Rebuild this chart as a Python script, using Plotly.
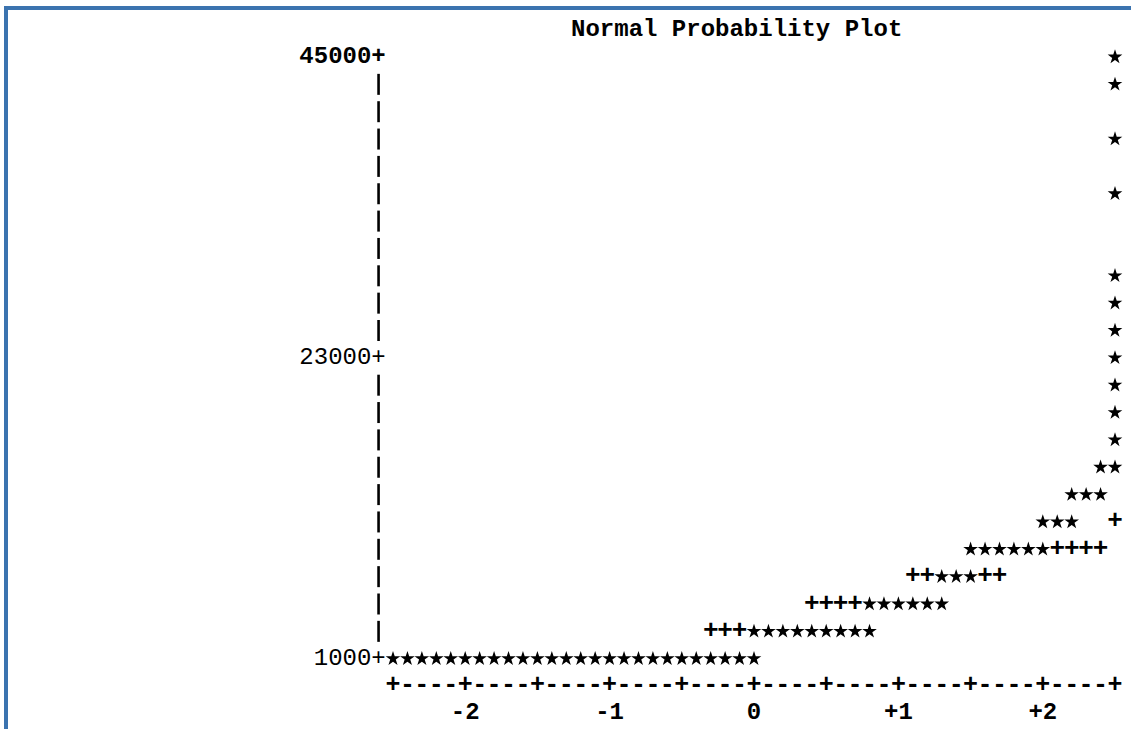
import plotly.graph_objects as go

# Normal quantile (x) and observed value (y) for each plotted observation
star_x = [2.5, 2.5, 2.5, 2.5, 2.5, 2.5, 2.5, 2.5, 2.5, 2.5, 2.5,
          2.4, 2.5,
          2.2, 2.3, 2.4,
          2.0, 2.1, 2.2,
          1.5, 1.6, 1.7, 1.8, 1.9, 2.0,
          1.3, 1.4, 1.5,
          0.8, 0.9, 1.0, 1.1, 1.2, 1.3,
          0.0, 0.1, 0.2, 0.3, 0.4, 0.5, 0.6, 0.7, 0.8,
          -2.5, -2.4, -2.3, -2.2, -2.1, -2.0, -1.9, -1.8, -1.7, -1.6, -1.5, -1.4, -1.3,
          -1.2, -1.1, -1.0, -0.9, -0.8, -0.7, -0.6, -0.5, -0.4, -0.3, -0.2, -0.1, 0.0]
star_y = [45000, 43000, 39000, 35000, 29000, 27000, 25000, 23000, 21000, 19000, 17000,
          15000, 15000,
          13000, 13000, 13000,
          11000, 11000, 11000,
          9000, 9000, 9000, 9000, 9000, 9000,
          7000, 7000, 7000,
          5000, 5000, 5000, 5000, 5000, 5000,
          3000, 3000, 3000, 3000, 3000, 3000, 3000, 3000, 3000,
          1000, 1000, 1000, 1000, 1000, 1000, 1000, 1000, 1000, 1000, 1000, 1000, 1000,
          1000, 1000, 1000, 1000, 1000, 1000, 1000, 1000, 1000, 1000, 1000, 1000, 1000]

# Reference normal line (shown where it is not covered by data)
ref_x = [2.5,
         2.1, 2.2, 2.3, 2.4,
         1.1, 1.2, 1.6, 1.7,
         0.4, 0.5, 0.6, 0.7,
         -0.3, -0.2, -0.1]
ref_y = [11000,
         9000, 9000, 9000, 9000,
         7000, 7000, 7000, 7000,
         5000, 5000, 5000, 5000,
         3000, 3000, 3000]

# Axis labelling
y_ticks = [45000, 23000, 1000]
y_tick_bold = [True, False, False]
x_ticks = [-2.5, -2.0, -1.5, -1.0, -0.5, 0.0, 0.5, 1.0, 1.5, 2.0, 2.5]
x_tick_labels = ["", "-2", "", "-1", "", "0", "", "+1", "", "+2", ""]
title_text = "Normal Probability Plot"

# Character grid of the line-printer style plot
COL = 0.1        # x units per character column
ROW = 2000       # y units per text row
W, H = 1131, 729
FONT = "Liberation Mono, Courier New, monospace"
SIZE = 24

y_top, y_bot = y_ticks[0], y_ticks[-1]
axis_col_x = x_ticks[0] - COL          # column holding the vertical axis
axis_row_y = y_bot - ROW               # row holding the horizontal axis
label_row_y = y_bot - 2 * ROW          # row holding the x tick labels

fig = go.Figure()

# vertical axis drawn as short '|' strokes between labelled rows
bar_y = [v for v in range(y_bot, y_top + 1, ROW) if v not in y_ticks]
fig.add_trace(go.Scatter(
    x=[axis_col_x] * len(bar_y), y=bar_y, mode="markers",
    marker=dict(symbol="line-ns-open", size=15, color="black",
                line=dict(width=2.6, color="black")),
    hoverinfo="skip", showlegend=False))

# y tick labels "value+" right-aligned on the axis column
for v, b in zip(y_ticks, y_tick_bold):
    fig.add_trace(go.Scatter(
        x=[axis_col_x + COL / 2], y=[v], mode="text", text=[f"{v}+"],
        textposition="middle left",
        textfont=dict(family=FONT, size=SIZE, color="black",
                      weight="bold" if b else "normal"),
        hoverinfo="skip", showlegend=False))

# horizontal axis "+----+----+ ..."
n_cols = int(round((x_ticks[-1] - x_ticks[0]) / COL)) + 1
axis_x = [x_ticks[0] + i * COL for i in range(n_cols)]
axis_ch = ["+" if i % 5 == 0 else "-" for i in range(n_cols)]
fig.add_trace(go.Scatter(
    x=axis_x, y=[axis_row_y] * n_cols, mode="text", text=axis_ch,
    textfont=dict(family=FONT, size=SIZE + 1, color="black", weight="bold"),
    hoverinfo="skip", showlegend=False))

# x tick labels
fig.add_trace(go.Scatter(
    x=x_ticks, y=[label_row_y] * len(x_ticks), mode="text", text=x_tick_labels,
    textfont=dict(family=FONT, size=SIZE, color="black", weight="bold"),
    hoverinfo="skip", showlegend=False))

# reference line characters
fig.add_trace(go.Scatter(
    x=ref_x, y=ref_y, mode="text", text=["+"] * len(ref_x),
    textfont=dict(family=FONT, size=SIZE + 2, color="black", weight="bold"),
    hoverinfo="skip", showlegend=False))

# data points as star glyphs
fig.add_trace(go.Scatter(
    x=star_x, y=star_y, mode="markers",
    marker=dict(symbol="star", size=11, color="black", line=dict(width=0)),
    hovertemplate="z=%{x}<br>%{y}<extra></extra>", showlegend=False))

# title row
fig.add_trace(go.Scatter(
    x=[-0.12], y=[y_top + ROW], mode="text", text=[title_text],
    textfont=dict(family=FONT, size=SIZE, color="black", weight="bold"),
    hoverinfo="skip", showlegend=False))

# pixel placement of the character grid
px_per_x = 144.4
px_per_y = 27.35 / ROW
x0_px, y0_px = 393, 57
x_range = [x_ticks[0] - x0_px / px_per_x, x_ticks[0] + (W - x0_px) / px_per_x]
y_range = [y_top - (H - y0_px) / px_per_y, y_top + y0_px / px_per_y]

border = "#3b73af"
fig.update_layout(
    width=W, height=H, autosize=False,
    margin=dict(l=0, r=0, t=0, b=0),
    paper_bgcolor="white", plot_bgcolor="white",
    xaxis=dict(range=x_range, visible=False, fixedrange=True),
    yaxis=dict(range=y_range, visible=False, fixedrange=True),
    shapes=[
        dict(type="rect", xref="paper", yref="paper",
             x0=4 / W, x1=8 / W, y0=0, y1=1 - 6 / H,
             fillcolor=border, line=dict(width=0), layer="above"),
        dict(type="rect", xref="paper", yref="paper",
             x0=4 / W, x1=1, y0=1 - 10 / H, y1=1 - 6 / H,
             fillcolor=border, line=dict(width=0), layer="above"),
    ],
)

fig.write_html("out.html", config={"displayModeBar": False})
